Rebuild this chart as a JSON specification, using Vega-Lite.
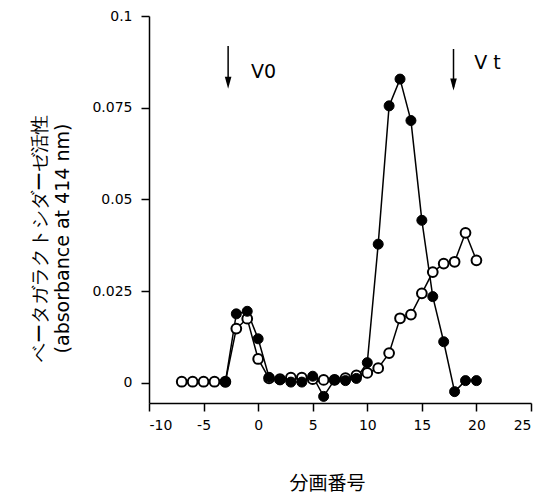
{
  "$schema": "https://vega.github.io/schema/vega-lite/v6.json",
  "width": 382,
  "height": 387,
  "autosize": {"type": "none"},
  "padding": {"left": 149, "top": 16, "right": 11, "bottom": 92},
  "background": "white",
  "config": {"view": {"stroke": null}},
  "datasets": {
    "pts": [
      {"frac": -7, "value": 0.0003, "series": "open"},
      {"frac": -6, "value": 0.0003, "series": "open"},
      {"frac": -5, "value": 0.0003, "series": "open"},
      {"frac": -4, "value": 0.0003, "series": "open"},
      {"frac": -3, "value": 0.0003, "series": "open"},
      {"frac": -2, "value": 0.0148, "series": "open"},
      {"frac": -1, "value": 0.0175, "series": "open"},
      {"frac": 0, "value": 0.0065, "series": "open"},
      {"frac": 1, "value": 0.0012, "series": "open"},
      {"frac": 2, "value": 0.001, "series": "open"},
      {"frac": 3, "value": 0.0014, "series": "open"},
      {"frac": 4, "value": 0.0014, "series": "open"},
      {"frac": 5, "value": 0.001, "series": "open"},
      {"frac": 6, "value": 0.0008, "series": "open"},
      {"frac": 7, "value": 0.0008, "series": "open"},
      {"frac": 8, "value": 0.0013, "series": "open"},
      {"frac": 9, "value": 0.002, "series": "open"},
      {"frac": 10, "value": 0.0027, "series": "open"},
      {"frac": 11, "value": 0.004, "series": "open"},
      {"frac": 12, "value": 0.0081, "series": "open"},
      {"frac": 13, "value": 0.0176, "series": "open"},
      {"frac": 14, "value": 0.0186, "series": "open"},
      {"frac": 15, "value": 0.0244, "series": "open"},
      {"frac": 16, "value": 0.0302, "series": "open"},
      {"frac": 17, "value": 0.0325, "series": "open"},
      {"frac": 18, "value": 0.033, "series": "open"},
      {"frac": 19, "value": 0.0409, "series": "open"},
      {"frac": 20, "value": 0.0334, "series": "open"},
      {"frac": -3, "value": 0.0002, "series": "filled"},
      {"frac": -2, "value": 0.0188, "series": "filled"},
      {"frac": -1, "value": 0.0195, "series": "filled"},
      {"frac": 0, "value": 0.012, "series": "filled"},
      {"frac": 1, "value": 0.0015, "series": "filled"},
      {"frac": 2, "value": 0.0008, "series": "filled"},
      {"frac": 3, "value": 0.0002, "series": "filled"},
      {"frac": 4, "value": 0.0002, "series": "filled"},
      {"frac": 5, "value": 0.0018, "series": "filled"},
      {"frac": 6, "value": -0.0037, "series": "filled"},
      {"frac": 7, "value": 0.0008, "series": "filled"},
      {"frac": 8, "value": 0.0006, "series": "filled"},
      {"frac": 9, "value": 0.0012, "series": "filled"},
      {"frac": 10, "value": 0.0055, "series": "filled"},
      {"frac": 11, "value": 0.0378, "series": "filled"},
      {"frac": 12, "value": 0.0755, "series": "filled"},
      {"frac": 13, "value": 0.0828, "series": "filled"},
      {"frac": 14, "value": 0.0715, "series": "filled"},
      {"frac": 15, "value": 0.0443, "series": "filled"},
      {"frac": 16, "value": 0.0235, "series": "filled"},
      {"frac": 17, "value": 0.0112, "series": "filled"},
      {"frac": 18, "value": -0.0024, "series": "filled"},
      {"frac": 19, "value": 0.0006, "series": "filled"},
      {"frac": 20, "value": 0.0006, "series": "filled"}
    ],
    "marks": [
      {"label": "V0", "x": -2.75, "ytop": 0.0918, "ybot": 0.0812, "yhead": 0.0818, "tx": -0.65, "ty": 0.0847},
      {"label": "V t", "x": 17.9, "ytop": 0.091, "ybot": 0.0806, "yhead": 0.0813, "tx": 19.8, "ty": 0.0873}
    ]
  },
  "encoding": {
    "x": {
      "field": "frac", "type": "quantitative",
      "scale": {"domain": [-10, 25], "nice": false, "zero": false},
      "axis": {
        "values": [-10, -5, 0, 5, 10, 15, 20, 25],
        "labelExpr": "'' + datum.value",
        "title": "分画番号",
        "titleFont": "Noto Sans CJK JP", "titleFontSize": 19, "titleFontWeight": "normal",
        "titleX": 178, "titleY": 80, "titleBaseline": "middle",
        "labelFont": "DejaVu Sans", "labelFontSize": 14, "labelColor": "black",
        "labelPadding": 7, "tickSize": 8, "tickColor": "black", "tickWidth": 1.5,
        "domainColor": "black", "domainWidth": 1.5, "grid": false
      }
    },
    "y": {
      "field": "value", "type": "quantitative",
      "scale": {"domain": [-0.0055, 0.1], "nice": false, "zero": false},
      "axis": {
        "values": [0, 0.025, 0.05, 0.075, 0.1],
        "format": ".3~f",
        "title": ["ベータガラクトシダーゼ活性", "(absorbance at 414 nm)"],
        "titleFont": "DejaVu Sans", "titleFontSize": 19, "titleFontWeight": "normal",
        "titleLineHeight": 23,
        "titleX": -110, "titleY": 222, "titleBaseline": "middle", "titleAngle": -90,
        "labelFont": "DejaVu Sans", "labelFontSize": 14, "labelColor": "black",
        "labelPadding": 9, "tickSize": 8, "tickColor": "black", "tickWidth": 1.5,
        "domainColor": "black", "domainWidth": 1.5, "grid": false
      }
    }
  },
  "layer": [
    {
      "data": {"name": "pts"},
      "transform": [{"filter": "datum.series == 'open'"}],
      "mark": {"type": "line", "color": "black", "strokeWidth": 1.5},
      "encoding": {}
    },
    {
      "data": {"name": "pts"},
      "transform": [{"filter": "datum.series == 'filled'"}],
      "mark": {"type": "line", "color": "black", "strokeWidth": 1.5},
      "encoding": {}
    },
    {
      "data": {"name": "pts"},
      "transform": [{"filter": "datum.series == 'open'"}],
      "mark": {"type": "point", "shape": "circle", "filled": true, "fill": "white", "stroke": "black", "strokeWidth": 2, "size": 95, "opacity": 1},
      "encoding": {}
    },
    {
      "data": {"name": "pts"},
      "transform": [{"filter": "datum.series == 'filled'"}],
      "mark": {"type": "point", "shape": "circle", "filled": true, "fill": "black", "stroke": "black", "strokeWidth": 1, "size": 100, "opacity": 1},
      "encoding": {}
    },
    {
      "data": {"name": "marks"},
      "mark": {"type": "rule", "color": "black", "strokeWidth": 1.5},
      "encoding": {
        "x": {"field": "x", "type": "quantitative"},
        "y": {"field": "ytop", "type": "quantitative"},
        "y2": {"field": "ybot"}
      }
    },
    {
      "data": {"name": "marks"},
      "mark": {"type": "point", "shape": "M-0.55,-1L0.55,-1L0,1Z", "filled": true, "fill": "black", "strokeWidth": 0, "size": 144, "opacity": 1},
      "encoding": {
        "x": {"field": "x", "type": "quantitative"},
        "y": {"field": "yhead", "type": "quantitative"}
      }
    },
    {
      "data": {"name": "marks"},
      "mark": {"type": "text", "font": "DejaVu Sans", "fontSize": 19, "align": "left", "baseline": "middle", "color": "black"},
      "encoding": {
        "x": {"field": "tx", "type": "quantitative"},
        "y": {"field": "ty", "type": "quantitative"},
        "text": {"field": "label"}
      }
    }
  ]
}
